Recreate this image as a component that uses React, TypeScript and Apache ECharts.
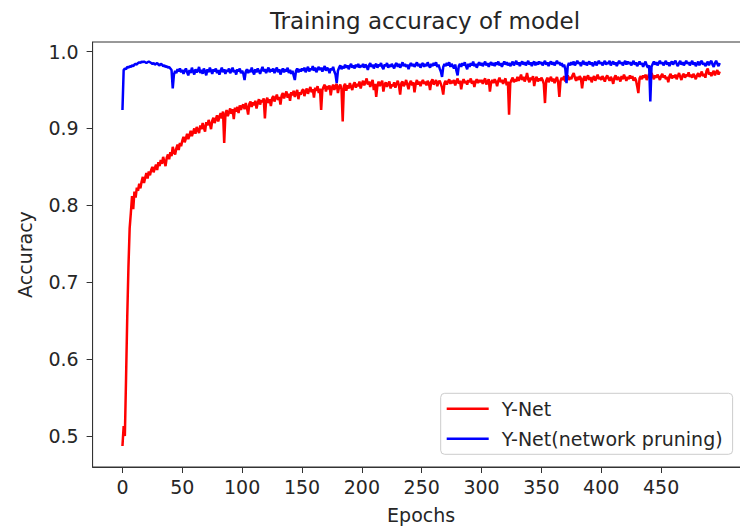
import React, { useEffect, useRef } from "react";
import * as echarts from "echarts";

const titleText = "Training accuracy of model";
const xAxisName = "Epochs";
const yAxisName = "Accuracy";
const seriesNames = ["Y-Net", "Y-Net(network pruning)"];
const xTicks = [0, 50, 100, 150, 200, 250, 300, 350, 400, 450];
const yTicks = [0.5, 0.6, 0.7, 0.8, 0.9, 1.0];

const yNet = [
  0.487, 0.513, 0.500, 0.575, 0.655, 0.720, 0.770, 0.790, 0.812, 0.795, 0.818, 0.810, 0.823, 0.819, 0.828, 0.822, 0.831, 0.837, 0.829, 0.836, 0.842, 0.835, 0.844, 0.839, 0.846,
  0.850, 0.843, 0.848, 0.853, 0.846, 0.856, 0.851, 0.859, 0.854, 0.863, 0.857, 0.851, 0.862, 0.866, 0.860, 0.869, 0.864, 0.876, 0.870, 0.866, 0.874, 0.879, 0.872, 0.881, 0.877,
  0.884, 0.889, 0.882, 0.887, 0.893, 0.886, 0.891, 0.897, 0.890, 0.895, 0.900, 0.893, 0.902, 0.898, 0.894, 0.904, 0.899, 0.907, 0.901, 0.896, 0.908, 0.904, 0.911, 0.906, 0.899,
  0.910, 0.914, 0.907, 0.912, 0.917, 0.909, 0.915, 0.920, 0.913, 0.922, 0.881, 0.918, 0.924, 0.916, 0.921, 0.926, 0.919, 0.925, 0.912, 0.927, 0.922, 0.928, 0.920, 0.930, 0.924,
  0.929, 0.931, 0.925, 0.933, 0.927, 0.918, 0.932, 0.935, 0.928, 0.934, 0.930, 0.936, 0.926, 0.933, 0.938, 0.931, 0.937, 0.934, 0.939, 0.913, 0.936, 0.940, 0.933, 0.938, 0.929,
  0.939, 0.942, 0.935, 0.940, 0.944, 0.937, 0.941, 0.931, 0.943, 0.946, 0.939, 0.944, 0.948, 0.940, 0.945, 0.936, 0.947, 0.943, 0.949, 0.941, 0.946, 0.950, 0.938, 0.947, 0.944,
  0.949, 0.951, 0.942, 0.948, 0.952, 0.945, 0.950, 0.954, 0.947, 0.951, 0.940, 0.953, 0.949, 0.955, 0.946, 0.952, 0.924, 0.950, 0.954, 0.957, 0.948, 0.955, 0.951, 0.956, 0.943,
  0.953, 0.957, 0.950, 0.955, 0.958, 0.946, 0.954, 0.957, 0.951, 0.909, 0.955, 0.958, 0.949, 0.956, 0.952, 0.959, 0.954, 0.950, 0.957, 0.960, 0.953, 0.958, 0.955, 0.961, 0.952,
  0.958, 0.962, 0.956, 0.960, 0.965, 0.957, 0.961, 0.954, 0.959, 0.963, 0.950, 0.958, 0.941, 0.956, 0.961, 0.955, 0.959, 0.962, 0.948, 0.957, 0.960, 0.954, 0.958, 0.961, 0.952,
  0.957, 0.955, 0.960, 0.953, 0.958, 0.962, 0.956, 0.944, 0.959, 0.961, 0.955, 0.958, 0.963, 0.957, 0.951, 0.959, 0.962, 0.956, 0.960, 0.947, 0.958, 0.963, 0.957, 0.961, 0.955,
  0.960, 0.963, 0.958, 0.961, 0.956, 0.962, 0.959, 0.950, 0.961, 0.964, 0.957, 0.960, 0.963, 0.955, 0.960, 0.962, 0.958, 0.953, 0.944, 0.959, 0.962, 0.957, 0.961, 0.964, 0.958,
  0.962, 0.959, 0.963, 0.956, 0.961, 0.965, 0.958, 0.962, 0.951, 0.960, 0.964, 0.959, 0.962, 0.957, 0.963, 0.960, 0.965, 0.958, 0.962, 0.954, 0.961, 0.964, 0.959, 0.963, 0.960,
  0.963, 0.958, 0.962, 0.965, 0.957, 0.961, 0.964, 0.948, 0.960, 0.963, 0.959, 0.964, 0.961, 0.955, 0.962, 0.966, 0.960, 0.963, 0.958, 0.962, 0.965, 0.956, 0.961, 0.918, 0.959,
  0.963, 0.966, 0.960, 0.964, 0.961, 0.967, 0.962, 0.965, 0.970, 0.963, 0.967, 0.961, 0.965, 0.972, 0.964, 0.960, 0.966, 0.963, 0.968, 0.955, 0.964, 0.967, 0.961, 0.965, 0.962,
  0.966, 0.963, 0.958, 0.933, 0.962, 0.966, 0.960, 0.964, 0.967, 0.961, 0.965, 0.959, 0.963, 0.967, 0.960, 0.941, 0.962, 0.966, 0.963, 0.968, 0.961, 0.965, 0.969, 0.963, 0.967,
  0.964, 0.969, 0.972, 0.966, 0.962, 0.967, 0.963, 0.968, 0.965, 0.952, 0.964, 0.968, 0.962, 0.966, 0.969, 0.963, 0.967, 0.960, 0.965, 0.968, 0.962, 0.966, 0.970, 0.964, 0.967,
  0.963, 0.968, 0.965, 0.961, 0.966, 0.969, 0.965, 0.962, 0.967, 0.964, 0.958, 0.966, 0.969, 0.963, 0.967, 0.965, 0.961, 0.968, 0.964, 0.970, 0.966, 0.962, 0.967, 0.964, 0.969,
  0.965, 0.968, 0.962, 0.966, 0.963, 0.955, 0.946, 0.965, 0.968, 0.964, 0.969, 0.966, 0.970, 0.963, 0.967, 0.971, 0.965, 0.972, 0.968, 0.964, 0.969, 0.966, 0.970, 0.967, 0.963,
  0.968, 0.971, 0.966, 0.969, 0.964, 0.967, 0.960, 0.968, 0.971, 0.965, 0.969, 0.966, 0.970, 0.964, 0.968, 0.972, 0.967, 0.963, 0.969, 0.971, 0.966, 0.970, 0.968, 0.973, 0.967,
  0.970, 0.966, 0.971, 0.968, 0.964, 0.969, 0.972, 0.967, 0.970, 0.974, 0.968, 0.971, 0.966, 0.975, 0.978, 0.970, 0.973, 0.968, 0.972, 0.975, 0.969, 0.973, 0.976, 0.970, 0.974,
];

const yNetPruning = [
  0.924, 0.976, 0.978, 0.977, 0.980, 0.979, 0.981, 0.980, 0.982, 0.981, 0.983, 0.984, 0.983, 0.985, 0.986, 0.985, 0.987, 0.986, 0.987, 0.986, 0.985, 0.986, 0.987, 0.986, 0.985,
  0.984, 0.985, 0.983, 0.984, 0.985, 0.983, 0.982, 0.984, 0.983, 0.981, 0.982, 0.980, 0.981, 0.979, 0.980, 0.978, 0.976, 0.952, 0.970, 0.975, 0.972, 0.977, 0.974, 0.978, 0.973,
  0.976, 0.971, 0.975, 0.978, 0.973, 0.969, 0.976, 0.972, 0.979, 0.974, 0.970, 0.977, 0.973, 0.975, 0.980, 0.972, 0.976, 0.971, 0.978, 0.974, 0.969, 0.977, 0.973, 0.979, 0.975,
  0.971, 0.977, 0.974, 0.978, 0.972, 0.976, 0.970, 0.975, 0.979, 0.973, 0.977, 0.971, 0.976, 0.974, 0.978, 0.972, 0.975, 0.979, 0.973, 0.976, 0.970, 0.977, 0.974, 0.978, 0.972,
  0.975, 0.971, 0.963, 0.974, 0.977, 0.972, 0.976, 0.973, 0.979, 0.974, 0.970, 0.977, 0.973, 0.978, 0.975, 0.971, 0.976, 0.980, 0.974, 0.977, 0.972, 0.976, 0.979, 0.973, 0.977,
  0.974, 0.978, 0.972, 0.976, 0.979, 0.973, 0.977, 0.970, 0.975, 0.978, 0.973, 0.977, 0.974, 0.979, 0.972, 0.976, 0.971, 0.975, 0.969, 0.963, 0.975, 0.978, 0.973, 0.977, 0.974,
  0.978, 0.975, 0.979, 0.973, 0.977, 0.980, 0.974, 0.978, 0.976, 0.981, 0.975, 0.979, 0.973, 0.977, 0.980, 0.976, 0.979, 0.974, 0.978, 0.981, 0.975, 0.979, 0.977, 0.972, 0.978,
  0.976, 0.980, 0.974, 0.970, 0.959, 0.975, 0.979, 0.982, 0.977, 0.981, 0.978, 0.983, 0.979, 0.982, 0.977, 0.981, 0.984, 0.979, 0.982, 0.978, 0.983, 0.980, 0.984, 0.979, 0.982,
  0.980, 0.984, 0.979, 0.983, 0.981, 0.976, 0.982, 0.985, 0.980, 0.983, 0.978, 0.982, 0.984, 0.979, 0.983, 0.981, 0.985, 0.980, 0.977, 0.983, 0.981, 0.985, 0.979, 0.983, 0.980,
  0.984, 0.981, 0.978, 0.983, 0.985, 0.980, 0.984, 0.979, 0.982, 0.986, 0.981, 0.984, 0.980, 0.983, 0.977, 0.982, 0.985, 0.981, 0.984, 0.980, 0.983, 0.986, 0.981, 0.984, 0.979,
  0.983, 0.985, 0.980, 0.984, 0.981, 0.986, 0.982, 0.979, 0.984, 0.981, 0.985, 0.982, 0.986, 0.980, 0.983, 0.978, 0.974, 0.967, 0.980, 0.984, 0.981, 0.985, 0.982, 0.986, 0.980,
  0.984, 0.981, 0.978, 0.983, 0.975, 0.969, 0.981, 0.984, 0.980, 0.985, 0.982, 0.986, 0.981, 0.977, 0.984, 0.980, 0.985, 0.982, 0.987, 0.981, 0.984, 0.979, 0.983, 0.986, 0.982,
  0.985, 0.981, 0.984, 0.987, 0.982, 0.985, 0.980, 0.984, 0.986, 0.982, 0.985, 0.981, 0.986, 0.983, 0.987, 0.982, 0.985, 0.980, 0.984, 0.987, 0.983, 0.986, 0.982, 0.985, 0.981,
  0.984, 0.987, 0.982, 0.985, 0.988, 0.983, 0.986, 0.981, 0.985, 0.987, 0.983, 0.986, 0.982, 0.985, 0.988, 0.983, 0.986, 0.981, 0.985, 0.987, 0.982, 0.986, 0.983, 0.987, 0.984,
  0.986, 0.982, 0.985, 0.988, 0.983, 0.986, 0.981, 0.985, 0.987, 0.983, 0.986, 0.982, 0.985, 0.988, 0.984, 0.986, 0.982, 0.985, 0.980, 0.983, 0.977, 0.959, 0.981, 0.985, 0.982,
  0.986, 0.983, 0.987, 0.982, 0.985, 0.988, 0.984, 0.986, 0.981, 0.985, 0.988, 0.983, 0.986, 0.982, 0.985, 0.987, 0.983, 0.986, 0.981, 0.984, 0.987, 0.982, 0.985, 0.988, 0.984,
  0.986, 0.982, 0.985, 0.988, 0.983, 0.986, 0.984, 0.988, 0.982, 0.985, 0.987, 0.983, 0.986, 0.981, 0.985, 0.988, 0.984, 0.986, 0.982, 0.985, 0.988, 0.983, 0.987, 0.984, 0.986,
  0.982, 0.985, 0.988, 0.983, 0.986, 0.981, 0.984, 0.987, 0.983, 0.985, 0.980, 0.984, 0.987, 0.982, 0.979, 0.982, 0.935, 0.980, 0.984, 0.987, 0.983, 0.986, 0.982, 0.985, 0.988,
  0.984, 0.986, 0.982, 0.985, 0.988, 0.983, 0.986, 0.981, 0.985, 0.987, 0.983, 0.986, 0.988, 0.984, 0.981, 0.985, 0.988, 0.983, 0.986, 0.982, 0.985, 0.988, 0.984, 0.986, 0.982,
  0.985, 0.988, 0.983, 0.986, 0.981, 0.984, 0.987, 0.982, 0.986, 0.988, 0.983, 0.985, 0.981, 0.984, 0.987, 0.982, 0.986, 0.988, 0.983, 0.980, 0.985, 0.988, 0.984, 0.981, 0.985,
];

const seriesColors = ["#ff0000", "#0000ff"];
const FONT = "DejaVu Sans";
const TEXT = "#262626";
const AXIS = "#333333";

export default function App() {
  const ref = useRef<HTMLDivElement>(null);

  useEffect(() => {
    document.body.style.margin = "0";
    if (!ref.current) return;
    const chart = echarts.init(ref.current, null, { renderer: "svg" });
    const seriesData = [yNet, yNetPruning];
    chart.setOption({
      animation: false,
      backgroundColor: "#ffffff",
      textStyle: { fontFamily: FONT },
      title: {
        text: titleText,
        left: 420,
        top: 4,
        textAlign: "center",
        textStyle: { fontFamily: FONT, fontSize: 23, fontWeight: "normal", color: TEXT },
      },
      grid: {
        left: 92.6,
        right: -9.6,
        top: 42,
        bottom: 61,
        show: true,
        borderColor: AXIS,
        borderWidth: 1,
        backgroundColor: "transparent",
        outerBoundsMode: "none",
        containLabel: false,
      },
      legend: {
        orient: "vertical",
        left: 440.7,
        top: 393.3,
        padding: [6, 10, 6, 6],
        itemGap: 11,
        itemWidth: 42,
        itemHeight: 2.5,
        icon: "rect",
        backgroundColor: "rgba(255,255,255,0.8)",
        borderColor: "#cccccc",
        borderWidth: 1,
        borderRadius: 4,
        textStyle: { fontFamily: FONT, fontSize: 19, color: TEXT, padding: [0, 0, 0, 8] },
        data: seriesNames,
      },
      xAxis: {
        type: "value",
        min: -24.95,
        max: 523.95,
        name: xAxisName,
        nameLocation: "middle",
        nameGap: 38,
        nameTextStyle: { fontFamily: FONT, fontSize: 19, color: TEXT },
        axisLine: { show: true, onZero: false, lineStyle: { color: AXIS, width: 1 } },
        axisTick: { show: true, length: 6, customValues: xTicks, lineStyle: { color: AXIS } },
        axisLabel: {
          customValues: xTicks,
          margin: 10,
          fontFamily: FONT,
          fontSize: 19,
          color: TEXT,
        },
        splitLine: { show: false },
      },
      yAxis: {
        type: "value",
        min: 0.4597,
        max: 1.0124,
        name: yAxisName,
        nameLocation: "middle",
        nameGap: 58,
        nameRotate: 90,
        nameTextStyle: { fontFamily: FONT, fontSize: 19, color: TEXT },
        axisLine: { show: true, onZero: false, lineStyle: { color: AXIS, width: 1 } },
        axisTick: { show: true, length: 6, customValues: yTicks, lineStyle: { color: AXIS } },
        axisLabel: {
          customValues: yTicks,
          margin: 14,
          fontFamily: FONT,
          fontSize: 19,
          color: TEXT,
          formatter: (v: number) => v.toFixed(1),
        },
        splitLine: { show: false },
      },
      series: seriesNames.map((name, k) => ({
        name,
        type: "line",
        data: seriesData[k].map((v, i) => [i, v]),
        showSymbol: false,
        symbol: "none",
        clip: true,
        color: seriesColors[k],
        lineStyle: { color: seriesColors[k], width: 2.5 },
      })),
    });
    return () => chart.dispose();
  }, []);

  return <div ref={ref} style={{ width: 740, height: 528 }} />;
}
